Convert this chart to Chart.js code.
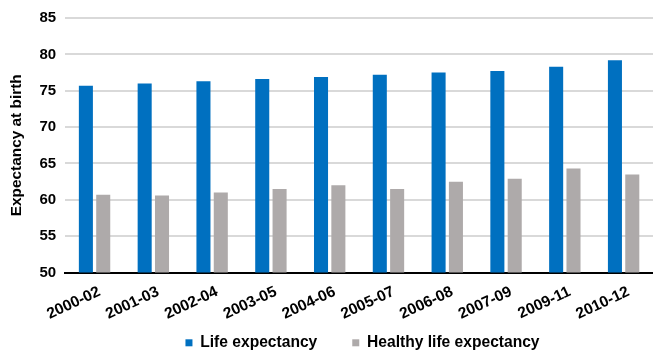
<!DOCTYPE html>
<html>
<head>
<meta charset="utf-8">
<script src="https://cdn.jsdelivr.net/npm/chart.js@4/dist/chart.umd.min.js"></script>
<style>
  html, body { margin: 0; padding: 0; background: #fff; }
  #wrap { width: 653px; height: 353px; }
</style>
</head>
<body>
<div id="wrap"><canvas id="c" width="653" height="353"></canvas></div>
<script>
// Three-year periods
const periods = ['2000-02', '2001-03', '2002-04', '2003-05', '2004-06', '2005-07', '2006-08', '2007-09', '2009-11', '2010-12'];
// Years expected at birth
const lifeExpectancy = [75.7, 76.0, 76.3, 76.6, 76.9, 77.2, 77.5, 77.7, 78.3, 79.2];
const healthyLifeExpectancy = [60.7, 60.6, 61.0, 61.5, 62.0, 61.5, 62.5, 62.9, 64.3, 63.5];
const yTicks = [50, 55, 60, 65, 70, 75, 80, 85];

const FONT = "'Liberation Sans', Arial, sans-serif";

// Keeps the legend compact in the layout (wide item gaps would otherwise
// add the same amount of vertical space) and places its row under the labels.
const legendPlacement = {
  id: 'legendPlacement',
  beforeInit(chart) {
    const legend = chart.legend;
    const fit = legend.fit.bind(legend);
    legend.fit = function () { fit(); this.height = 27.5; };
  },
  afterLayout(chart) {
    const l = chart.legend;
    l.top = 300;
    l.height = chart.height - l.top;
    l.bottom = chart.height;
    l.left += 32;
    l.right += 32;
    l.width = l.right - l.left;
  }
};

new Chart(document.getElementById('c'), {
  type: 'bar',
  data: {
    labels: periods,
    datasets: [
      { label: 'Life expectancy', data: lifeExpectancy, backgroundColor: '#0070C0' },
      { label: 'Healthy life expectancy', data: healthyLifeExpectancy, backgroundColor: '#AEAAAA' }
    ]
  },
  plugins: [legendPlacement],
  options: {
    responsive: false,
    animation: false,
    devicePixelRatio: 1,
    categoryPercentage: 0.59,
    barPercentage: 0.81,
    layout: { padding: { left: 8, right: 0, top: 9, bottom: 0 } },
    plugins: {
      tooltip: { enabled: false },
      legend: {
        position: 'bottom',
        labels: {
          boxWidth: 7,
          boxHeight: 7,
          padding: 35,
          color: '#000',
          font: { family: FONT, size: 15.6, weight: 'bold' }
        }
      }
    },
    scales: {
      x: {
        grid: { display: false },
        border: { color: '#000', width: 2 },
        ticks: {
          color: '#000',
          minRotation: 25,
          maxRotation: 25,
          padding: 2,
          labelOffset: 5,
          font: { family: FONT, size: 15.5, weight: 'bold' }
        }
      },
      y: {
        min: yTicks[0],
        max: yTicks[yTicks.length - 1],
        afterBuildTicks: axis => { axis.ticks = yTicks.map(v => ({ value: v })); },
        border: { display: false },
        grid: { color: '#D9D9D9', lineWidth: 2, drawTicks: false },
        ticks: {
          color: '#000',
          padding: 9,
          font: { family: FONT, size: 15, weight: 'bold' }
        },
        title: {
          display: true,
          text: 'Expectancy at birth',
          color: '#000',
          padding: { top: 0, bottom: 4 },
          font: { family: FONT, size: 15.4, weight: 'bold' }
        }
      }
    }
  }
});
</script>
</body>
</html>
